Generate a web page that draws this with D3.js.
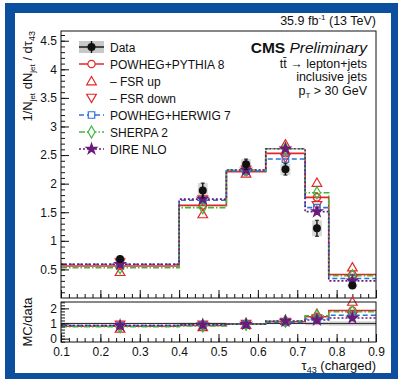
<!DOCTYPE html>
<html>
<head>
<meta charset="utf-8">
<script src="https://cdn.jsdelivr.net/npm/d3@7"></script>
<style>
  html, body { margin: 0; padding: 0; background: #fff; }
  svg { display: block; font-family: "Liberation Sans", Arial, sans-serif; }
</style>
</head>
<body>
<svg id="chart" width="398" height="379"></svg>
<script>
// Bin edges of tau_43 (charged) and the bin centres used for markers
const binEdges = [0.1, 0.4, 0.52, 0.62, 0.72, 0.78, 0.9];
const binCenters = [0.25, 0.46, 0.57, 0.67, 0.75, 0.84];

// Normalised distributions 1/N dN/dtau43
const dataValues   = [0.68, 1.88, 2.34, 2.25, 1.22, 0.22];
const dataErrors   = [0.04, 0.13, 0.09, 0.10, 0.14, 0.03];
const powhegPythia = [0.56, 1.62, 2.21, 2.53, 1.76, 0.41];
const fsrUp        = [0.46, 1.47, 2.18, 2.69, 2.02, 0.54];
const fsrDown      = [0.62, 1.72, 2.24, 2.45, 1.62, 0.33];
const powhegHerwig = [0.59, 1.71, 2.22, 2.43, 1.58, 0.34];
const sherpa2      = [0.53, 1.58, 2.24, 2.61, 1.84, 0.39];
const direNlo      = [0.59, 1.73, 2.24, 2.61, 1.51, 0.30];

// Axis ticks
const mainYTicks  = [0.5, 1, 1.5, 2, 2.5, 3, 3.5, 4, 4.5];
const ratioYTicks = [0, 1, 2];
const xTicks      = [0.1, 0.2, 0.3, 0.4, 0.5, 0.6, 0.7, 0.8, 0.9];

const legendLabels = ["Data", "POWHEG+PYTHIA 8", "\u2013 FSR up", "\u2013 FSR down",
                      "POWHEG+HERWIG 7", "SHERPA 2", "DIRE NLO"];

const RED = "#e3262a", BLUE = "#2a72d8", GREEN = "#3cba3c", PURPLE = "#6a1b7c";

const series = [
  { name: legendLabels[1], values: powhegPythia, color: RED,    dash: null,        line: true,  symbol: d3.symbolCircle,   fill: "none", rot: 0 },
  { name: legendLabels[2], values: fsrUp,        color: RED,    dash: null,        line: false, symbol: d3.symbolTriangle, fill: "none", rot: 0 },
  { name: legendLabels[3], values: fsrDown,      color: RED,    dash: null,        line: false, symbol: d3.symbolTriangle, fill: "none", rot: 180 },
  { name: legendLabels[4], values: powhegHerwig, color: BLUE,   dash: "5,3",       line: true,  symbol: d3.symbolSquare,   fill: "none", rot: 0 },
  { name: legendLabels[5], values: sherpa2,      color: GREEN,  dash: "6,2,1.5,2", line: true,  symbol: d3.symbolDiamond,  fill: "none", rot: 0 },
  { name: legendLabels[6], values: direNlo,      color: PURPLE, dash: "2,2",       line: true,  symbol: d3.symbolStar,     fill: PURPLE, rot: 0 }
];

const svg = d3.select("#chart");

// Outer blue frame
const frame = svg.append("g").attr("fill", "#0c4f9f");
frame.append("rect").attr("x", 5).attr("y", 3).attr("width", 393).attr("height", 10);
frame.append("rect").attr("x", 5).attr("y", 3).attr("width", 10).attr("height", 376);
frame.append("rect").attr("x", 391).attr("y", 3).attr("width", 7).attr("height", 376);
frame.append("rect").attr("x", 5).attr("y", 373).attr("width", 393).attr("height", 6);

const X0 = 61, X1 = 376;
const main = { top: 31, bottom: 298 };
const ratio = { top: 302, bottom: 342 };

const x = d3.scaleLinear().domain([0.1, 0.9]).range([X0, X1]);
const y = d3.scaleLinear().domain([0, 4.67]).range([main.bottom, main.top]);
const yr = d3.scaleLinear().domain([-0.22, 2.42]).range([ratio.bottom, ratio.top]);

function stepPoints(vals) {
  const pts = vals.map((v, i) => [binEdges[i], v]);
  pts.push([binEdges[binEdges.length - 1], vals[vals.length - 1]]);
  return pts;
}

function symbolSize(sym) {
  if (sym === d3.symbolStar) return 34;
  if (sym === d3.symbolTriangle) return 40;
  return 42;
}

function drawAxes(g, yScale, top, bottom, majorY, minorY, showXLabels) {
  // left axis: major and minor ticks pointing inward
  g.append("g").attr("transform", `translate(${X0},0)`)
    .call(d3.axisLeft(yScale).tickValues(minorY).tickSizeInner(-4).tickSizeOuter(0).tickFormat(""))
    .call(a => a.select(".domain").remove());
  g.append("g").attr("transform", `translate(${X0},0)`)
    .call(d3.axisLeft(yScale).tickValues(majorY).tickSizeInner(-8).tickSizeOuter(0).tickPadding(4)
      .tickFormat(d3.format("~g")))
    .call(a => a.select(".domain").remove())
    .call(a => a.selectAll("text").attr("font-size", 12).attr("fill", "#111")
      .attr("font-family", "Liberation Sans, Arial, sans-serif"));
  // bottom axis
  const minorX = d3.range(0, 41).map(i => +(0.1 + i * 0.02).toFixed(2));
  g.append("g").attr("transform", `translate(0,${bottom})`)
    .call(d3.axisBottom(x).tickValues(minorX).tickSizeInner(-4).tickSizeOuter(0).tickFormat(""))
    .call(a => a.select(".domain").remove());
  g.append("g").attr("transform", `translate(0,${bottom})`)
    .call(d3.axisBottom(x).tickValues(xTicks).tickSizeInner(-8).tickSizeOuter(0).tickPadding(5)
      .tickFormat(showXLabels ? d3.format(".1f") : ""))
    .call(a => a.select(".domain").remove())
    .call(a => a.selectAll("text").attr("font-size", 12).attr("fill", "#111")
      .attr("font-family", "Liberation Sans, Arial, sans-serif"));
  g.selectAll(".tick line").attr("stroke", "#111");
  // frame
  g.append("rect").attr("x", X0).attr("y", top).attr("width", X1 - X0).attr("height", bottom - top)
    .attr("fill", "none").attr("stroke", "#111").attr("stroke-width", 1);
}

// ---------- main panel ----------
const gMain = svg.append("g");
const line = d3.line().x(d => x(d[0])).y(d => y(d[1])).curve(d3.curveStepAfter);

series.filter(s => s.line).forEach(s => {
  gMain.append("path").datum(stepPoints(s.values))
    .attr("d", line).attr("fill", "none").attr("stroke", s.color)
    .attr("stroke-width", 1.6)
    .attr("stroke-dasharray", s.dash);
});

function drawMarkers(g, s, yScale, vals) {
  g.selectAll(null).data(vals).join("path")
    .attr("d", d3.symbol().type(s.symbol).size(symbolSize(s.symbol)))
    .attr("transform", (d, i) => `translate(${x(binCenters[i])},${yScale(d) + (s.rot ? -1 : (s.symbol === d3.symbolTriangle ? 1 : 0))}) rotate(${s.rot})`)
    .attr("fill", s.fill).attr("stroke", s.color).attr("stroke-width", 1.2);
}

// data uncertainty boxes
gMain.selectAll(null).data(dataValues).join("rect")
  .attr("x", (d, i) => x(binCenters[i]) - 5)
  .attr("width", 10)
  .attr("y", (d, i) => y(d + dataErrors[i]))
  .attr("height", (d, i) => y(d - dataErrors[i]) - y(d + dataErrors[i]))
  .attr("fill", "#cfcfcf").attr("opacity", 0.8);

series.forEach(s => drawMarkers(gMain, s, y, s.values));

// data points with error bars
const gData = gMain.append("g");
dataValues.forEach((d, i) => {
  const cx = x(binCenters[i]);
  gData.append("line").attr("x1", cx).attr("x2", cx)
    .attr("y1", y(d + dataErrors[i])).attr("y2", y(d - dataErrors[i]))
    .attr("stroke", "#111").attr("stroke-width", 1.4);
  [d + dataErrors[i], d - dataErrors[i]].forEach(v => gData.append("line")
    .attr("x1", cx - 2).attr("x2", cx + 2).attr("y1", y(v)).attr("y2", y(v))
    .attr("stroke", "#111").attr("stroke-width", 1));
  gData.append("circle").attr("cx", cx).attr("cy", y(d)).attr("r", 4).attr("fill", "#111");
});

drawAxes(gMain, y, main.top, main.bottom, mainYTicks, d3.range(1, 47).map(i => +(i * 0.1).toFixed(1)), false);

// ---------- ratio panel ----------
const gRatio = svg.append("g");
const rline = d3.line().x(d => x(d[0])).y(d => yr(d[1])).curve(d3.curveStepAfter);

// data uncertainty band around unity
dataValues.forEach((d, i) => {
  const rel = dataErrors[i] / d;
  gRatio.append("rect").attr("x", x(binEdges[i])).attr("width", x(binEdges[i + 1]) - x(binEdges[i]))
    .attr("y", yr(1 + rel)).attr("height", yr(1 - rel) - yr(1 + rel))
    .attr("fill", "#c8c8c8");
});
gRatio.append("line").attr("x1", X0).attr("x2", X1).attr("y1", yr(1)).attr("y2", yr(1))
  .attr("stroke", "#333").attr("stroke-width", 1);

series.forEach(s => {
  const r = s.values.map((v, i) => v / dataValues[i]);
  if (s.line) {
    gRatio.append("path").datum(stepPoints(r))
      .attr("d", rline).attr("fill", "none").attr("stroke", s.color)
      .attr("stroke-width", 1.5).attr("stroke-dasharray", s.dash);
  }
});
series.forEach(s => drawMarkers(gRatio, s, yr, s.values.map((v, i) => v / dataValues[i])));

drawAxes(gRatio, yr, ratio.top, ratio.bottom, ratioYTicks, d3.range(-1, 13).map(i => +(i * 0.2).toFixed(1)), true);

// ---------- axis titles ----------
const yTitle = svg.append("text").attr("transform", "translate(32,31) rotate(-90)")
  .attr("text-anchor", "end").attr("font-size", 13).attr("fill", "#111");
yTitle.append("tspan").text("1/N");
yTitle.append("tspan").text("jet").attr("font-size", 8).attr("dy", 3);
yTitle.append("tspan").text(" dN").attr("dy", -3);
yTitle.append("tspan").text("jet").attr("font-size", 8).attr("dy", 3);
yTitle.append("tspan").text(" / d\u03c4").attr("dy", -3);
yTitle.append("tspan").text("43").attr("font-size", 9).attr("dy", 3);

svg.append("text").attr("transform", "translate(32,322) rotate(-90)")
  .attr("text-anchor", "middle").attr("font-size", 13).attr("fill", "#111").text("MC/data");

const xTitle = svg.append("text").attr("x", X1).attr("y", 370)
  .attr("text-anchor", "end").attr("font-size", 13).attr("fill", "#111");
xTitle.append("tspan").text("\u03c4");
xTitle.append("tspan").text("43").attr("font-size", 9).attr("dy", 3);
xTitle.append("tspan").text(" (charged)").attr("dy", -3);

// ---------- header texts ----------
const lumi = svg.append("text").attr("x", X1).attr("y", 25)
  .attr("text-anchor", "end").attr("font-size", 12.5).attr("fill", "#111");
lumi.append("tspan").text("35.9 fb");
lumi.append("tspan").text("-1").attr("font-size", 8).attr("dy", -5);
lumi.append("tspan").text(" (13 TeV)").attr("dy", 5);

const cms = svg.append("text").attr("x", 367).attr("y", 53)
  .attr("text-anchor", "end").attr("font-size", 15.5).attr("fill", "#111");
cms.append("tspan").text("CMS").attr("font-weight", "bold");
cms.append("tspan").text(" Preliminary").attr("font-style", "italic");

const info = svg.append("g").attr("font-size", 12.5).attr("fill", "#111").attr("text-anchor", "end");
info.append("text").attr("x", 367).attr("y", 68).text("tt\u0304 \u2192 lepton+jets");
info.append("text").attr("x", 367).attr("y", 81).text("inclusive jets");
const pt = info.append("text").attr("x", 367).attr("y", 95);
pt.append("tspan").text("p");
pt.append("tspan").text("T").attr("font-size", 8).attr("dy", 3);
pt.append("tspan").text(" > 30 GeV").attr("dy", -3);

// ---------- legend ----------
const leg = svg.append("g");
const legY = i => 47 + i * 17;
const lx0 = 79, lx1 = 104, lxc = 91.5;
// Data entry
leg.append("rect").attr("x", lx0).attr("y", legY(0) - 6).attr("width", lx1 - lx0).attr("height", 12).attr("fill", "#c8c8c8");
leg.append("line").attr("x1", lx0).attr("x2", lx1).attr("y1", legY(0)).attr("y2", legY(0)).attr("stroke", "#111").attr("stroke-width", 1.4);
leg.append("line").attr("x1", lxc).attr("x2", lxc).attr("y1", legY(0) - 6).attr("y2", legY(0) + 6).attr("stroke", "#111").attr("stroke-width", 1.4);
leg.append("circle").attr("cx", lxc).attr("cy", legY(0)).attr("r", 4).attr("fill", "#111");
series.forEach((s, k) => {
  const yy = legY(k + 1);
  if (s.line) {
    leg.append("line").attr("x1", lx0).attr("x2", lx1).attr("y1", yy).attr("y2", yy)
      .attr("stroke", s.color).attr("stroke-width", 1.5).attr("stroke-dasharray", s.dash);
  }
  leg.append("path")
    .attr("d", d3.symbol().type(s.symbol).size(symbolSize(s.symbol)))
    .attr("transform", `translate(${lxc},${yy + (s.rot ? -1 : (s.symbol === d3.symbolTriangle ? 1 : 0))}) rotate(${s.rot})`)
    .attr("fill", s.fill === "none" ? "#fff" : s.fill).attr("stroke", s.color).attr("stroke-width", 1.2);
});
leg.selectAll(null).data(legendLabels).join("text")
  .attr("x", 110).attr("y", (d, i) => legY(i) + 4.5)
  .attr("font-size", 12).attr("fill", "#111").text(d => d);
</script>
</body>
</html>
